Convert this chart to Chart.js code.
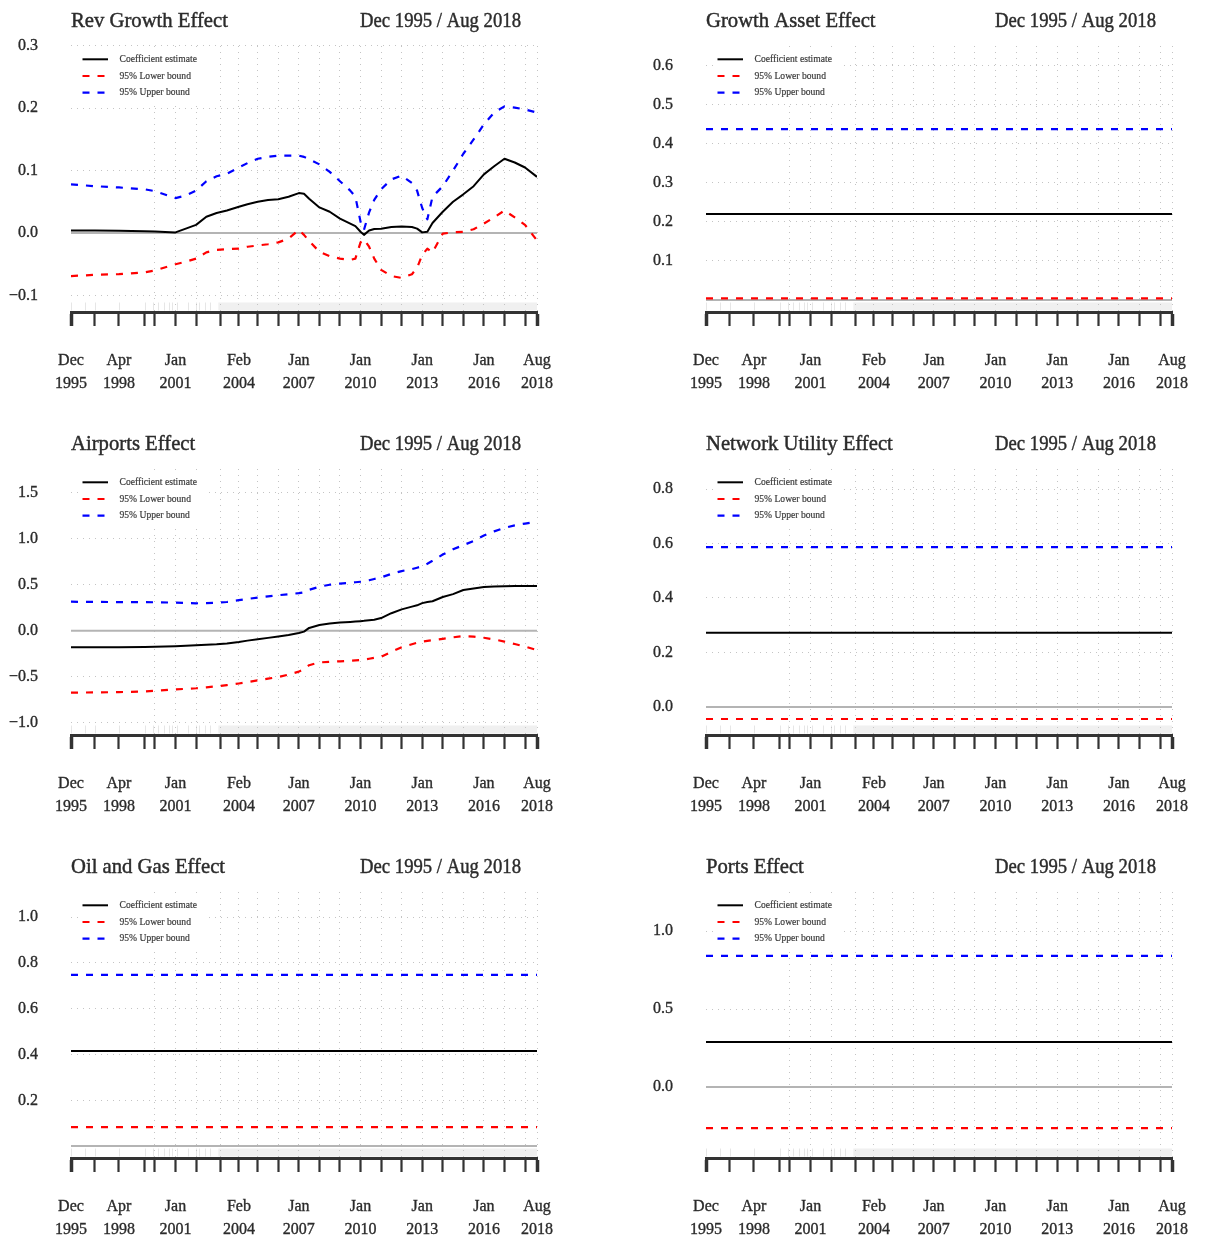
<!DOCTYPE html>
<html>
<head>
<meta charset="utf-8">
<script src="https://cdn.jsdelivr.net/npm/chart.js@4.4.1/dist/chart.umd.min.js"></script>
<style>
  html, body { margin: 0; padding: 0; background: #fff; overflow: hidden; }
  #wrap { position: relative; width: 1205px; height: 1240px; overflow: hidden; }
  #wrap canvas { position: absolute; }
</style>
</head>
<body>
<div id="wrap"></div>
<script>
// observation dates for the rolling estimates
const obsDates = ['1995-12','1997-02','1998-04','1999-07','2000-01','2001-01','2001-07','2002-01','2002-07','2003-01',
  '2003-07','2004-02','2004-07','2005-01','2005-07','2006-01','2006-07','2007-01','2007-04','2007-07',
  '2008-01','2008-07','2009-01','2009-07','2009-10','2010-01','2010-03','2010-06','2010-09','2011-01',
  '2011-07','2012-01','2012-07','2012-10','2013-01','2013-04','2013-07','2014-01','2014-07','2015-01',
  '2015-07','2016-01','2016-07','2017-01','2017-07','2018-01','2018-08'];

const revEst = [0.004,0.004,0.0035,0.003,0.0025,0.001,0.007,0.013,0.026,0.032,
  0.036,0.042,0.046,0.050,0.053,0.054,0.058,0.064,0.063,0.055,
  0.041,0.034,0.023,0.015,0.011,0.002,-0.003,0.004,0.0065,0.007,
  0.0095,0.0105,0.0095,0.007,0.001,0.002,0.016,0.034,0.050,0.062,
  0.075,0.094,0.107,0.119,0.113,0.105,0.090];
const revLower = [-0.069,-0.067,-0.066,-0.063,-0.060,-0.050,-0.046,-0.041,-0.031,-0.027,
  -0.026,-0.025,-0.022,-0.020,-0.018,-0.015,-0.009,0.005,-0.003,-0.013,
  -0.030,-0.037,-0.041,-0.043,-0.041,-0.015,-0.010,-0.022,-0.041,-0.059,
  -0.069,-0.072,-0.066,-0.056,-0.035,-0.025,-0.031,-0.001,0.001,0.002,
  0.006,0.015,0.025,0.036,0.025,0.013,-0.012];
const revUpper = [0.078,0.075,0.073,0.070,0.067,0.056,0.060,0.068,0.083,0.091,
  0.095,0.105,0.112,0.119,0.122,0.124,0.124,0.124,0.122,0.118,
  0.110,0.098,0.083,0.068,0.058,0.018,0.005,0.033,0.053,0.070,
  0.086,0.092,0.080,0.068,0.040,0.022,0.058,0.075,0.100,0.127,
  0.150,0.174,0.193,0.203,0.201,0.198,0.193];

const airEst = [-0.180,-0.180,-0.179,-0.176,-0.174,-0.168,-0.163,-0.158,-0.153,-0.148,
  -0.138,-0.122,-0.108,-0.093,-0.078,-0.062,-0.046,-0.025,-0.010,0.030,
  0.061,0.077,0.088,0.095,0.099,0.104,0.107,0.113,0.120,0.137,
  0.190,0.232,0.262,0.276,0.300,0.313,0.320,0.366,0.398,0.442,
  0.459,0.476,0.481,0.484,0.485,0.486,0.486];
const airLower = [-0.674,-0.671,-0.668,-0.660,-0.654,-0.638,-0.632,-0.626,-0.616,-0.605,
  -0.592,-0.574,-0.560,-0.540,-0.522,-0.503,-0.478,-0.445,-0.415,-0.375,
  -0.345,-0.338,-0.333,-0.326,-0.322,-0.318,-0.315,-0.305,-0.295,-0.284,
  -0.230,-0.180,-0.147,-0.131,-0.120,-0.110,-0.103,-0.088,-0.072,-0.058,
  -0.064,-0.077,-0.095,-0.118,-0.145,-0.172,-0.210];
const airUpper = [0.315,0.313,0.311,0.310,0.309,0.305,0.301,0.298,0.300,0.304,
  0.312,0.332,0.345,0.360,0.373,0.386,0.397,0.408,0.418,0.445,
  0.478,0.500,0.512,0.522,0.527,0.532,0.535,0.548,0.562,0.579,
  0.618,0.648,0.670,0.685,0.700,0.728,0.760,0.828,0.885,0.930,
  0.975,1.035,1.080,1.118,1.145,1.165,1.185];

// constant coefficients: first and last observation
const flatDates = ['1995-12', '2018-08'];
const growthEst = [0.2205, 0.2205];
const growthLower = [0.004, 0.004];
const growthUpper = [0.438, 0.438];
const netEst = [0.272, 0.272];
const netLower = [-0.044, -0.044];
const netUpper = [0.587, 0.587];
const oilEst = [0.415, 0.415];
const oilLower = [0.083, 0.083];
const oilUpper = [0.748, 0.748];
const portsEst = [0.288, 0.288];
const portsLower = [-0.263, -0.263];
const portsUpper = [0.840, 0.840];

// time axis: one tick at the first observation of each year
const tickDates = ['1995-12','1997-02','1998-04','1999-07','2000-01','2001-01','2002-01','2003-03','2004-02',
  '2005-01','2006-01','2007-01','2008-01','2009-01','2010-01','2011-01','2012-01','2013-01','2014-01',
  '2015-01','2016-01','2017-01','2018-01','2018-08'];
const labelDates = ['1995-12','1998-04','2001-01','2004-02','2007-01','2010-01','2013-01','2016-01','2018-08'];
const gridFrom = '2000-01';
const monthNames = ['Jan','Feb','Mar','Apr','May','Jun','Jul','Aug','Sep','Oct','Nov','Dec'];

// sparse early observations, then a continuous monthly run
const rugDates = ['1995-12','1996-08','1997-02','1998-04','1999-07','1999-12','2000-03','2000-06','2000-09',
  '2000-11','2001-02','2001-08','2002-01','2002-03','2002-06','2002-09'];
const rugDense = ['2003-02', '2018-08'];

const legendLabels = ['Coefficient estimate', '95% Lower bound', '95% Upper bound'];

const SERIF = "'Liberation Serif', 'Times New Roman', serif";
const TEXT = '#2b2b2b';
const toMonth = s => { const [y, m] = s.split('-').map(Number); return y * 12 + m - 1; };
const monthLabel = v => monthNames[v % 12] + ' ' + Math.floor(v / 12);
const tickMonths = tickDates.map(toMonth);
const labelMonths = labelDates.map(toMonth);
const fmtY = v => (v < 0 ? '\u2212' : '') + Math.abs(v).toFixed(1);

const panels = [
  { title: 'Rev Growth Effect', col: 0, row: 0, dates: obsDates, est: revEst, lower: revLower, upper: revUpper,
    yMin: -0.1266, yMax: 0.2997, yTicks: [-0.1, 0, 0.1, 0.2, 0.3] },
  { title: 'Growth Asset Effect', col: 1, row: 0, dates: flatDates, est: growthEst, lower: growthLower, upper: growthUpper,
    yMin: -0.031, yMax: 0.651, yTicks: [0.1, 0.2, 0.3, 0.4, 0.5, 0.6] },
  { title: 'Airports Effect', col: 0, row: 1, dates: obsDates, est: airEst, lower: airLower, upper: airUpper,
    yMin: -1.134, yMax: 1.758, yTicks: [-1.0, -0.5, 0, 0.5, 1.0, 1.5] },
  { title: 'Network Utility Effect', col: 1, row: 1, dates: flatDates, est: netEst, lower: netLower, upper: netUpper,
    yMin: -0.1028, yMax: 0.8734, yTicks: [0, 0.2, 0.4, 0.6, 0.8] },
  { title: 'Oil and Gas Effect', col: 0, row: 2, dates: flatDates, est: oilEst, lower: oilLower, upper: oilUpper,
    yMin: -0.052, yMax: 1.110, yTicks: [0.2, 0.4, 0.6, 0.8, 1.0] },
  { title: 'Ports Effect', col: 1, row: 2, dates: flatDates, est: portsEst, lower: portsLower, upper: portsUpper,
    yMin: -0.455, yMax: 1.25, yTicks: [0, 0.5, 1.0] }
];

// draws text squeezed horizontally so it keeps its height but fits a narrower width
function narrowText(ctx, str, x, y, sx, stroke) {
  ctx.save();
  ctx.translate(x, y);
  ctx.scale(sx, 1);
  if (stroke) {
    ctx.lineWidth = stroke;
    ctx.strokeStyle = ctx.fillStyle;
    ctx.strokeText(str, 0, 0);
  }
  ctx.fillText(str, 0, 0);
  ctx.restore();
}

// title, legend, zero line and observation rug for each panel
const panelDecor = {
  id: 'panelDecor',
  beforeDraw(chart) {
    const { ctx, chartArea: a, scales: { x } } = chart;
    ctx.save();
    ctx.fillStyle = '#f0f0f0';
    const b0 = x.getPixelForValue(toMonth(rugDense[0]));
    const b1 = x.getPixelForValue(toMonth(rugDense[1]));
    ctx.fillRect(b0, a.bottom - 9.5, b1 - b0, 8);
    ctx.strokeStyle = '#e6e6e6';
    ctx.lineWidth = 1;
    rugDates.forEach(d => {
      const px = Math.round(x.getPixelForValue(toMonth(d))) + 0.5;
      ctx.beginPath();
      ctx.moveTo(px, a.bottom - 9.5);
      ctx.lineTo(px, a.bottom - 1.5);
      ctx.stroke();
    });
    ctx.restore();
  },
  beforeDatasetsDraw(chart) {
    const { ctx, chartArea: a, scales: { y } } = chart;
    const zy = y.getPixelForValue(0);
    ctx.save();
    ctx.strokeStyle = '#b4b4b4';
    ctx.lineWidth = 2;
    ctx.beginPath();
    ctx.moveTo(a.left, zy);
    ctx.lineTo(a.right, zy);
    ctx.stroke();
    ctx.restore();
  },
  afterDraw(chart, args, opts) {
    const { ctx, chartArea: a } = chart;
    ctx.save();
    ctx.fillStyle = TEXT;
    ctx.font = '22px ' + SERIF;
    ctx.textBaseline = 'alphabetic';
    ctx.textAlign = 'left';
    narrowText(ctx, opts.title, a.left, 27, 0.94, 0.45);
    ctx.textAlign = 'right';
    narrowText(ctx, opts.range, a.left + 450, 27, 0.85, 0.45);

    // legend box top-left inside the plot
    ctx.fillStyle = '#fff';
    ctx.fillRect(a.left + 8, a.top + 4, 126, 52);
    ctx.font = '10px ' + SERIF;
    ctx.textAlign = 'left';
    ctx.textBaseline = 'middle';
    chart.data.datasets.forEach((ds, i) => {
      const ly = a.top + 13.3 + i * 16.7;
      ctx.strokeStyle = ds.borderColor;
      ctx.lineWidth = ds.borderWidth;
      ctx.setLineDash(ds.borderDash || []);
      ctx.beginPath();
      ctx.moveTo(a.left + 11.5, ly);
      ctx.lineTo(a.left + 37, ly);
      ctx.stroke();
      ctx.setLineDash([]);
      ctx.fillStyle = '#3a3a3a';
      narrowText(ctx, ds.label, a.left + 48.5, ly, 0.96, 0.2);
    });
    ctx.restore();
  }
};

const wrap = document.getElementById('wrap');

function makePanel(p) {
  const canvas = document.createElement('canvas');
  canvas.width = 578;
  canvas.height = 423;
  canvas.style.left = (p.col * 635) + 'px';
  canvas.style.top = (p.row * 423) + 'px';
  wrap.appendChild(canvas);

  const xs = p.dates.map(toMonth);
  const pts = vals => vals.map((v, i) => ({ x: xs[i], y: v }));
  const dash = [7, 8];

  return new Chart(canvas, {
    type: 'line',
    data: {
      datasets: [
        { label: legendLabels[0], data: pts(p.est), borderColor: '#000000', borderWidth: 2 },
        { label: legendLabels[1], data: pts(p.lower), borderColor: '#ff0000', borderWidth: 2.2, borderDash: dash },
        { label: legendLabels[2], data: pts(p.upper), borderColor: '#0000ff', borderWidth: 2.2, borderDash: dash }
      ]
    },
    options: {
      responsive: false,
      animation: false,
      devicePixelRatio: 1,
      // right padding leaves room for the last time label plus its tick padding
      layout: { padding: { left: 0, top: 46, right: 41, bottom: 0 } },
      elements: {
        point: { radius: 0, hoverRadius: 0 },
        line: { tension: 0, borderCapStyle: 'butt', borderJoinStyle: 'round', fill: false }
      },
      plugins: {
        legend: { display: false },
        tooltip: { enabled: false },
        panelDecor: {
          title: p.title,
          range: monthLabel(xs[0]) + ' / ' + monthLabel(xs[xs.length - 1])
        }
      },
      scales: {
        x: {
          type: 'linear',
          position: 'bottom',
          min: toMonth(tickDates[0]),
          max: toMonth(tickDates[tickDates.length - 1]),
          afterBuildTicks: s => { s.ticks = tickMonths.map(v => ({ value: v })); },
          afterFit: s => { s.height = 111; },
          ticks: {
            autoSkip: false,
            maxRotation: 0,
            minRotation: 0,
            padding: 24,
            color: TEXT,
            textStrokeColor: TEXT,
            textStrokeWidth: 0.35,
            font: { family: SERIF, size: 16, lineHeight: 1.4 },
            callback: v => labelMonths.includes(v) ? [monthNames[v % 12], String(Math.floor(v / 12))] : ''
          },
          grid: {
            color: c => (c.tick && c.tick.value >= toMonth(gridFrom)) ? '#c4c4c4' : 'rgba(0,0,0,0)',
            lineWidth: 1,
            drawTicks: true,
            tickLength: 14,
            tickColor: '#333',
            tickWidth: c => (c.index === 0 || c.index === tickMonths.length - 1) ? 3.5 : 2.2
          },
          border: { display: true, color: '#333', width: 3, dash: [1, 5] }
        },
        y: {
          min: p.yMin,
          max: p.yMax,
          afterBuildTicks: s => { s.ticks = p.yTicks.map(v => ({ value: v })); },
          afterFit: s => { s.width = 71; },
          ticks: {
            padding: 33,
            color: TEXT,
            textStrokeColor: TEXT,
            textStrokeWidth: 0.35,
            font: { family: SERIF, size: 16 },
            callback: v => fmtY(v)
          },
          grid: { color: '#c4c4c4', lineWidth: 1, drawTicks: false },
          border: { display: false, dash: [1, 5] }
        }
      }
    },
    plugins: [panelDecor]
  });
}

panels.forEach(makePanel);
</script>
</body>
</html>
